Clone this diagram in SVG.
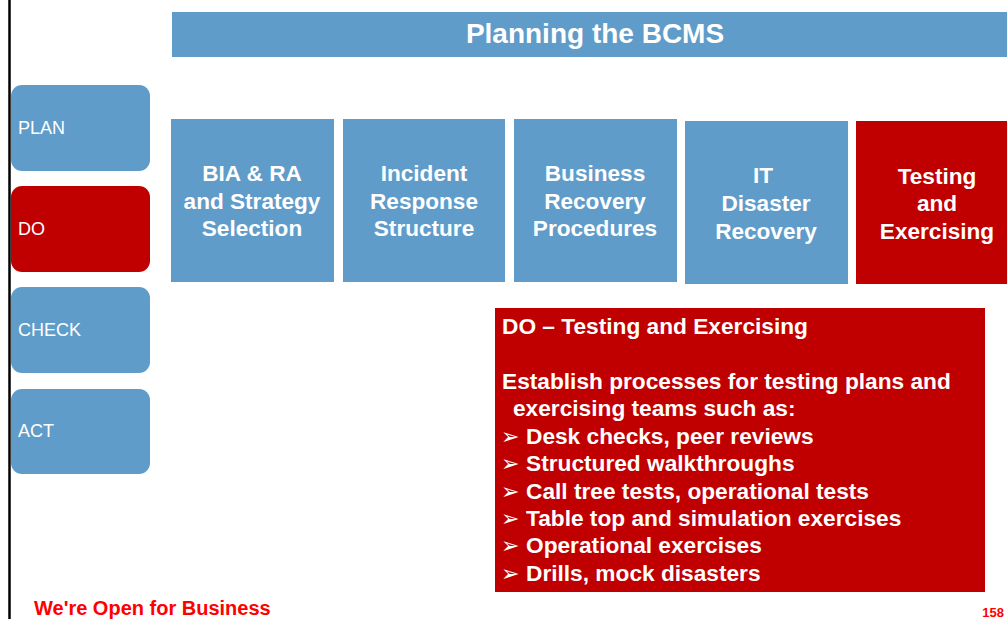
<svg xmlns="http://www.w3.org/2000/svg" width="1007" height="619" viewBox="0 0 1007 619">
<style>
.blue{fill:#5F9CC9}
.red{fill:#C00000}
.side{font-family:"Liberation Sans",Arial,sans-serif;font-size:18px;fill:#FFFFFF}
.box{font-family:"Liberation Sans",Arial,sans-serif;font-size:22.6px;font-weight:bold;fill:#FFFFFF;text-anchor:middle}
.det{font-family:"Liberation Sans",Arial,sans-serif;font-size:22.7px;font-weight:bold;fill:#FFFFFF}
.bul{font-family:"DejaVu Sans",sans-serif;font-size:22px;fill:#FFFFFF}
.foot{font-family:"Liberation Sans",Arial,sans-serif;font-weight:bold;fill:#FF0000}
</style>
<rect x="0" y="0" width="1007" height="619" fill="#FFFFFF"/>
<line x1="9.5" y1="0" x2="9.5" y2="619" stroke="#000000" stroke-width="2.5"/>
<g id="title">
<rect class="blue" x="172" y="12" width="835" height="45"/>
<text x="595" y="43" font-family="Liberation Sans, Arial, sans-serif" font-size="28" font-weight="bold" fill="#FFFFFF" text-anchor="middle">Planning the BCMS</text>
</g>
<g id="plan"><rect class="blue" x="11" y="85" width="139" height="86" rx="11"/><text class="side" x="18" y="134">PLAN</text></g>
<g id="do"><rect class="red" x="11" y="186" width="139" height="86" rx="11"/><text class="side" x="18" y="235">DO</text></g>
<g id="check"><rect class="blue" x="11" y="287" width="139" height="86" rx="11"/><text class="side" x="18" y="336">CHECK</text></g>
<g id="act"><rect class="blue" x="11" y="389" width="139" height="85" rx="11"/><text class="side" x="18" y="437">ACT</text></g>
<g id="bia"><rect class="blue" x="171" y="119" width="163" height="163"/>
<text class="box" x="252" y="181">BIA &amp; RA</text><text class="box" x="252" y="209">and Strategy</text><text class="box" x="252" y="236">Selection</text></g>
<g id="incident"><rect class="blue" x="343" y="119" width="162" height="163"/>
<text class="box" x="424" y="181">Incident</text><text class="box" x="424" y="209">Response</text><text class="box" x="424" y="236">Structure</text></g>
<g id="business"><rect class="blue" x="514" y="119" width="163" height="163"/>
<text class="box" x="595" y="181">Business</text><text class="box" x="595" y="209">Recovery</text><text class="box" x="595" y="236">Procedures</text></g>
<g id="itdr"><rect class="blue" x="685" y="121" width="163" height="163"/>
<text class="box" x="763" y="183">IT</text><text class="box" x="766" y="211">Disaster</text><text class="box" x="766" y="239">Recovery</text></g>
<g id="testing"><rect class="red" x="856" y="121" width="151" height="163"/>
<text class="box" x="937" y="184">Testing</text><text class="box" x="937" y="211">and</text><text class="box" x="937" y="239">Exercising</text></g>
<g id="details">
<rect class="red" x="495" y="308" width="490" height="284"/>
<text class="det" x="502" y="334">DO – Testing and Exercising</text>
<text class="det" x="502" y="389">Establish processes for testing plans and</text>
<text class="det" x="513" y="416">exercising teams such as:</text>
<text class="bul" x="501" y="444">➢</text><text class="det" x="526" y="444">Desk checks, peer reviews</text>
<text class="bul" x="501" y="471">➢</text><text class="det" x="526" y="471">Structured walkthroughs</text>
<text class="bul" x="501" y="499">➢</text><text class="det" x="526" y="499">Call tree tests, operational tests</text>
<text class="bul" x="501" y="526">➢</text><text class="det" x="526" y="526">Table top and simulation exercises</text>
<text class="bul" x="501" y="553">➢</text><text class="det" x="526" y="553">Operational exercises</text>
<text class="bul" x="501" y="581">➢</text><text class="det" x="526" y="581">Drills, mock disasters</text>
</g>
<g id="connectors"></g>
<text class="foot" x="34" y="615" font-size="20">We're Open for Business</text>
<text class="foot" x="1004" y="617" font-size="13" text-anchor="end">158</text>
</svg>
